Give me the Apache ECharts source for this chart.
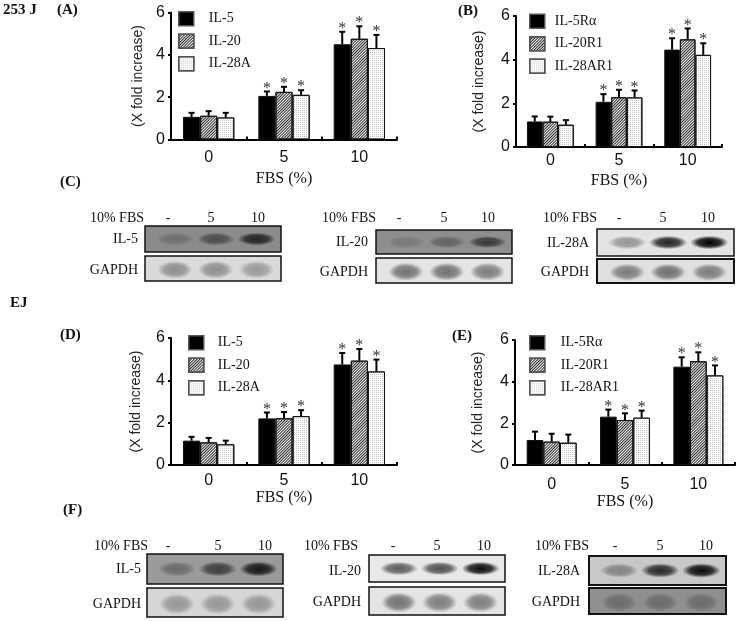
<!DOCTYPE html>
<html><head><meta charset="utf-8">
<style>html,body{margin:0;padding:0;background:#fff}#c{width:739px;height:621px}</style>
<script src="https://cdn.jsdelivr.net/npm/echarts@6/dist/echarts.min.js"></script>
</head><body><div id="c"></div>
<script>
const categories = ['0','5','10'];
const sig = [0,1,1];
const yTicks = {min:0,max:6,interval:2};
const namesLigand = ['IL-5','IL-20','IL-28A'];
const namesReceptor = ['IL-5R\u03b1','IL-20R1','IL-28AR1'];

const A_IL5 = [1.07,2.06,4.50], A_IL5_top = [1.26,2.27,5.09];
const A_IL20 = [1.12,2.25,4.76], A_IL20_top = [1.34,2.49,5.35];
const A_IL28 = [1.04,2.11,4.32], A_IL28_top = [1.26,2.33,4.94];

const B_IL5R = [1.17,2.07,4.46], B_IL5R_top = [1.40,2.42,4.98];
const B_IL20R = [1.16,2.28,4.93], B_IL20R_top = [1.39,2.62,5.43];
const B_IL28R = [1.02,2.27,4.22], B_IL28R_top = [1.23,2.59,4.75];

const D_IL5 = [1.15,2.20,4.75], D_IL5_top = [1.33,2.48,5.29];
const D_IL20 = [1.07,2.21,4.93], D_IL20_top = [1.28,2.50,5.48];
const D_IL28 = [0.98,2.31,4.42], D_IL28_top = [1.15,2.59,4.98];

const E_IL5R = [1.20,2.32,4.72], E_IL5R_top = [1.60,2.66,5.17];
const E_IL20R = [1.12,2.16,4.98], E_IL20R_top = [1.50,2.48,5.41];
const E_IL28R = [1.07,2.27,4.30], E_IL28R_top = [1.46,2.61,4.78];

const SERIF = '"Liberation Serif"', SANS = '"Liberation Sans"';
const barFrac = 0.227;

const fills = [
  {color:'#000'},
  {color:'#fff', decal:{symbol:'rect',symbolSize:1,color:'#222',dashArrayX:[1,0],dashArrayY:[1,1],rotation:-Math.PI/4}},
  {color:'#fff', decal:{symbol:'rect',symbolSize:1,color:'#c4c4c4',dashArrayX:[1,1],dashArrayY:[1,1],rotation:0}}
];

const panels = [
  {grid:[171,12.5,226,127], names:namesLigand, vals:[A_IL5,A_IL20,A_IL28], tops:[A_IL5_top,A_IL20_top,A_IL28_top], legend:[178,11,10], lab:10, nameGap:31, yGap:26},
  {grid:[516,16,206,131], names:namesReceptor, vals:[B_IL5R,B_IL20R,B_IL28R], tops:[B_IL5R_top,B_IL20R_top,B_IL28R_top], legend:[529,13.5,5], lab:6, nameGap:26, yGap:30},
  {grid:[171,338,226,127], names:namesLigand, vals:[D_IL5,D_IL20,D_IL28], tops:[D_IL5_top,D_IL20_top,D_IL28_top], legend:[188,335,9], lab:8, nameGap:20, yGap:28},
  {grid:[515,340,220,125], names:namesReceptor, vals:[E_IL5R,E_IL20R,E_IL28R], tops:[E_IL5R_top,E_IL20R_top,E_IL28R_top], legend:[529,335,11], lab:12, nameGap:25, yGap:30}
];

function errRender(k){
  return function(params, api){
    const cat = api.value(0);
    const p = api.coord([cat, api.value(1)]);
    const q = api.coord([cat, api.value(2)]);
    const x = p[0] + (k-1)*api.size([1,0])[0]*barFrac;
    const st = {stroke:'#000',lineWidth:2};
    const kids = [
      {type:'line',shape:{x1:x,y1:p[1],x2:x,y2:q[1]},style:st},
      {type:'line',shape:{x1:x-3,y1:q[1],x2:x+3,y2:q[1]},style:st}
    ];
    if (api.value(3)) kids.push({type:'text',style:{text:'*',x:x,y:q[1]-3,font:'16px '+SERIF,textAlign:'center',textVerticalAlign:'middle',fill:'#333'}});
    return {type:'group',children:kids};
  };
}

const grid=[],xAxis=[],yAxis=[],series=[],legend=[];
panels.forEach((P,i)=>{
  grid.push({left:P.grid[0],top:P.grid[1],width:P.grid[2],height:P.grid[3]});
  xAxis.push({type:'category',gridIndex:i,data:categories,name:'FBS (%)',nameLocation:'middle',nameGap:P.nameGap,
    nameTextStyle:{fontFamily:SERIF,fontSize:16,color:'#111'},
    axisLine:{lineStyle:{color:'#000',width:2}},axisTick:{show:true,inside:true,length:3,lineStyle:{color:'#000',width:2}},
    axisLabel:{fontFamily:SANS,fontSize:16,color:'#111',margin:P.lab},splitLine:{show:false}});
  yAxis.push({type:'value',gridIndex:i,min:yTicks.min,max:yTicks.max,interval:yTicks.interval,name:'(X fold increase)',nameLocation:'middle',nameGap:P.yGap,
    nameTextStyle:{fontFamily:SANS,fontSize:14,color:'#222'},
    axisLine:{show:true,lineStyle:{color:'#000',width:2}},axisTick:{show:true,length:3,lineStyle:{color:'#000',width:2}},
    axisLabel:{fontFamily:SANS,fontSize:16,color:'#111',margin:6},splitLine:{show:false}});
  P.vals.forEach((v,k)=>{
    series.push({type:'bar',name:P.names[k],xAxisIndex:i,yAxisIndex:i,data:v,barWidth:(barFrac*100)+'%',barGap:0,
      itemStyle:{...fills[k],borderColor:'#111',borderWidth:1},emphasis:{disabled:true},silent:true,animation:false,z:2});
    series.push({type:'custom',xAxisIndex:i,yAxisIndex:i,renderItem:errRender(k),clip:false,silent:true,animation:false,z:3,
      encode:{x:0,y:[1,2]},data:v.map((m,j)=>[j,m,P.tops[k][j],sig[j]])});
  });
  legend.push({show:true,orient:'vertical',left:P.legend[0],top:P.legend[1],padding:0,itemWidth:15,itemHeight:14,itemGap:7,selectedMode:false,
    data:P.names.map(n=>({name:n,icon:'rect'})),
    itemStyle:{borderWidth:1.5,borderColor:'#555'},
    textStyle:{fontFamily:SERIF,fontSize:14,color:'#111',padding:[0,0,0,P.legend[2]]}});
});

// text labels of the figure
const tx=(text,x,y,font,align)=>({type:'text',silent:true,z:20,style:{text,x,y,font,textAlign:align||'left',textVerticalAlign:'middle',fill:'#111'}});
const bold='bold 15px '+SERIF, small='14px '+SERIF;
const graphicEls=[
  tx('253 J',3,10,bold),tx('(A)',57,10,bold),tx('(B)',458,11,bold),tx('(C)',60,182,bold),
  tx('EJ',10,303,bold),tx('(D)',60,335,bold),tx('(E)',452,336,bold),tx('(F)',63,510,bold)
];

// western blot panels
const blotLayout=[
 {x:145,w:136,rows:[[226,26],[256,25]],hx:[144,168,211,258],hy:218,lx:138,ly:[239,270],name:'IL-5',bg:['#8b8b8b','#dadada'],bw:[1.5,1.5]},
 {x:376,w:136,rows:[[230,24],[258,25]],hx:[376,399,444,488],hy:218,lx:368,ly:[242,272],name:'IL-20',bg:['#8e8e8e','#e4e4e4'],bw:[1.5,1.5]},
 {x:597,w:137,rows:[[229,27],[259,24]],hx:[597,619,663,708],hy:218,lx:589,ly:[243,272],name:'IL-28A',bg:['#e4e4e4','#e0e0e0'],bw:[1.5,2]},
 {x:147,w:136,rows:[[554,30],[588,29]],hx:[148,168,218,265],hy:546,lx:141,ly:[569,604],name:'IL-5',bg:['#9a9a9a','#d6d6d6'],bw:[1.5,1.5]},
 {x:369,w:136,rows:[[555,27],[587,28]],hx:[358,393,437,484],hy:546,lx:361,ly:[571,602],name:'IL-20',bg:['#e8e8e8','#e4e4e4'],bw:[1.5,1.5]},
 {x:589,w:137,rows:[[556,29],[588,26]],hx:[589,615,660,706],hy:546,lx:580,ly:[571,602],name:'IL-28A',bg:['#c8c8c8','#8f8f8f'],bw:[2,2]}
];
// band strengths read from the blots, lanes -, 5, 10
const blotTarget=[[0.2,0.45,0.75],[0.15,0.3,0.6],[0.35,0.85,1],[0.3,0.6,0.85],[0.6,0.65,0.95],[0.35,0.8,0.95]];
const blotGapdh=[[0.35,0.35,0.3],[0.5,0.5,0.45],[0.45,0.5,0.45],[0.3,0.3,0.3],[0.5,0.45,0.45],[0.25,0.25,0.25]];

const lanes=[0.22,0.52,0.82];
function band(x,y,w,h,cx,cy,a,ry,rx){
  return {type:'circle',silent:true,z:11,x:x+w*cx,y:y+h*cy,scaleX:(w*rx)/(h*ry),shape:{cx:0,cy:0,r:h*ry},
    style:{fill:new echarts.graphic.RadialGradient(0.5,0.5,0.5,[
      {offset:0,color:'rgba(0,0,0,'+a+')'},{offset:0.6,color:'rgba(0,0,0,'+(a*0.8)+')'},{offset:1,color:'rgba(0,0,0,0)'}])}};
}
blotLayout.forEach((B,i)=>{
  B.rows.forEach((r,j)=>{
    graphicEls.push({type:'rect',silent:true,z:10,shape:{x:B.x,y:r[0],width:B.w,height:r[1]},style:{fill:B.bg[j],stroke:'#111',lineWidth:B.bw[j]}});
    const s=(j===0?blotTarget:blotGapdh)[i];
    lanes.forEach((cx,l)=>graphicEls.push(band(B.x,r[0],B.w,r[1],cx,j===0?0.5:0.55,s[l],j===0?0.25:0.36,j===0?0.14:0.13)));
  });
  graphicEls.push(tx('10% FBS',B.hx[0],B.hy,small,'right'));
  ['-','5','10'].forEach((t,l)=>graphicEls.push(tx(t,B.hx[l+1],B.hy,small,'center')));
  graphicEls.push(tx(B.name,B.lx,B.ly[0],small,'right'));
  graphicEls.push(tx('GAPDH',B.lx,B.ly[1],small,'right'));
});

const chart=echarts.init(document.getElementById('c'),null,{renderer:'canvas'});
chart.setOption({animation:false,backgroundColor:'#fff',tooltip:{show:false},grid,xAxis,yAxis,series,legend,graphic:{elements:graphicEls}});
</script></body></html>
